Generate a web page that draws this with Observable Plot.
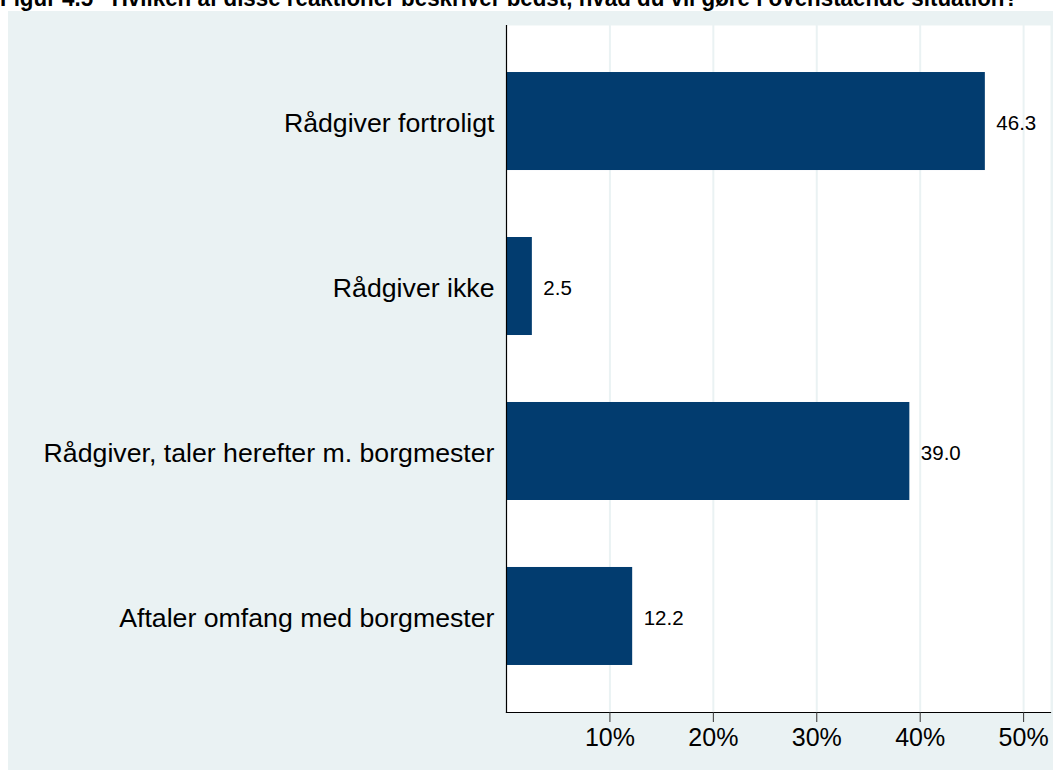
<!DOCTYPE html>
<html>
<head>
<meta charset="utf-8">
<script src="https://cdn.jsdelivr.net/npm/d3@7"></script>
<script src="https://cdn.jsdelivr.net/npm/@observablehq/plot@0.6"></script>
<style>
  html, body { margin: 0; padding: 0; background: #ffffff; width: 1053px; height: 770px; overflow: hidden; position: relative; }
  #title { position: absolute; left: 0px; top: -13px; white-space: nowrap; font-family: "Liberation Sans Narrow", "Liberation Sans", Arial, sans-serif; font-weight: bold; font-size: 23px; line-height: 23px; color: #000; transform-origin: 0 0; }
  #chart { position: absolute; left: 8px; top: 11px; }
  #chart svg { display: block; }
</style>
</head>
<body>
<div id="title">Figur 4.5&nbsp;&nbsp;&nbsp;Hvilken af disse reaktioner beskriver bedst, hvad du vil gøre i ovenstående situation?</div>
<div id="chart"></div>
<script>
const categories = [
  "Rådgiver fortroligt",
  "Rådgiver ikke",
  "Rådgiver, taler herefter m. borgmester",
  "Aftaler omfang med borgmester"
];
const values = [46.3, 2.5, 39.0, 12.2];
const xTicks = [10, 20, 30, 40, 50];

const data = categories.map((c, i) => ({category: c, value: values[i]}));

const chart = Plot.plot({
  width: 1045,
  height: 759,
  marginLeft: 498,
  marginRight: 3,
  marginTop: 14,
  marginBottom: 58,
  style: {background: "#eaf2f3", fontFamily: "'Liberation Sans', Arial, Helvetica, sans-serif", color: "#000"},
  x: {domain: [0, 52.6]},
  y: {domain: categories, paddingInner: 0.406, paddingOuter: 0.285, align: 0.5, round: false},
  marks: [
    Plot.frame({fill: "#ffffff", stroke: null}),
    Plot.gridX(xTicks, {stroke: "#eaf2f3", strokeOpacity: 1, strokeWidth: 2}),
    Plot.barX(data, {x: "value", y: "category", fill: "#023c6f"}),
    Plot.text(data, {x: "value", y: "category", text: d => d.value.toFixed(1), textAnchor: "start", dx: 11, dy: 1.5, fontSize: 20.5, fill: "#000"}),
    Plot.frame({anchor: "left", stroke: "#000", strokeWidth: 1.2}),
    Plot.frame({anchor: "bottom", stroke: "#000", strokeWidth: 1.2}),
    Plot.axisY({tickSize: 0, tickPadding: 12, fontSize: 26.7, dy: 1.5, label: null}),
    Plot.axisX(xTicks, {tickFormat: d => d + "%", fontSize: 25, tickSize: 10, tickPadding: 6, label: null, stroke: "#333"})
  ]
});
document.getElementById("chart").appendChild(chart);

const t = document.getElementById("title");
const w = t.scrollWidth;
if (w > 0) t.style.transform = `scaleX(${1018 / w})`;
</script>
</body>
</html>
